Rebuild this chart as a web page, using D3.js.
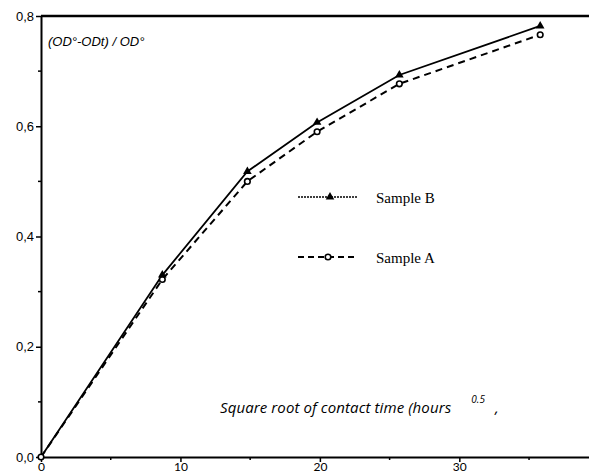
<!DOCTYPE html>
<html>
<head>
<meta charset="utf-8">
<script src="https://cdn.jsdelivr.net/npm/d3@7"></script>
<style>
  body { margin: 0; background: #fff; }
  svg { display: block; }
</style>
</head>
<body>
<div id="container"></div>
<script>
// data
const times = [0, 8.7, 14.8, 19.8, 25.7, 35.8];
const sampleB = [0, 0.33, 0.518, 0.607, 0.693, 0.782];
const sampleA = [0, 0.322, 0.5, 0.59, 0.677, 0.766];
const xTicks = [0, 10, 20, 30];
const yTicks = [0, 0.2, 0.4, 0.6, 0.8];

const width = 589;
const height = 474;
const padding = { top: 16, right: 0, bottom: 17, left: 41 };

const svg = d3.select('#container').append('svg')
    .attr('width', width)
    .attr('height', height);

// scales
const xScale = d3.scaleLinear()
    .domain([0, 39.3])
    .range([padding.left, width - padding.right]);

const yScale = d3.scaleLinear()
    .domain([0, 0.8])
    .range([height - padding.bottom, padding.top]);

// X-Axis
const xAxis = svg.append('g')
    .attr('transform', 'translate(0,' + yScale(0) + ')')
    .call(d3.axisBottom(xScale).tickValues(xTicks).tickSize(5).tickSizeOuter(0).tickFormat(d3.format('d')));
xAxis.select('.domain').attr('stroke-width', 2);
xAxis.selectAll('.tick line').attr('stroke-width', 1.5);
xAxis.selectAll('text')
    .attr('font-family', 'Lato, sans-serif')
    .attr('font-size', 12)
    .attr('y', 0)
    .attr('dy', 0)
    .attr('transform', 'translate(0,' + (height - 3 - yScale(0)) + ')');

// x minor ticks
svg.append('g').selectAll('line')
    .data([5, 15, 25, 35])
    .enter().append('line')
    .attr('x1', d => xScale(d)).attr('x2', d => xScale(d))
    .attr('y1', yScale(0)).attr('y2', yScale(0) + 3)
    .attr('stroke', '#000').attr('stroke-width', 1.5);

// Y-Axis
const yAxis = svg.append('g')
    .attr('transform', 'translate(' + xScale(0) + ',0)')
    .call(d3.axisLeft(yScale).tickValues(yTicks).tickSize(5).tickSizeOuter(0)
        .tickFormat(d => d3.format('.1f')(d).replace('.', ',')));
yAxis.select('.domain').attr('stroke-width', 2);
yAxis.selectAll('.tick line').attr('stroke-width', 1.5);
yAxis.selectAll('text')
    .attr('font-family', 'Liberation Sans, Arial, sans-serif')
    .attr('font-size', 13)
    .attr('x', -7);

// y minor ticks
svg.append('g').selectAll('line')
    .data([0.1, 0.3, 0.5, 0.7])
    .enter().append('line')
    .attr('x1', xScale(0)).attr('x2', xScale(0) - 3)
    .attr('y1', d => yScale(d)).attr('y2', d => yScale(d))
    .attr('stroke', '#000').attr('stroke-width', 1.5);

// top frame line
svg.append('line')
    .attr('x1', xScale(0)).attr('x2', width)
    .attr('y1', yScale(0.8)).attr('y2', yScale(0.8))
    .attr('stroke', '#000').attr('stroke-width', 2.5);

// lines
const line = d3.line()
    .x(d => xScale(d[0]))
    .y(d => yScale(d[1]));

const dataB = times.map((t, i) => [t, sampleB[i]]);
const dataA = times.map((t, i) => [t, sampleA[i]]);

svg.append('path')
    .datum(dataA)
    .attr('d', line)
    .attr('fill', 'none')
    .attr('stroke', '#000')
    .attr('stroke-width', 2)
    .attr('stroke-dasharray', '7,5');

svg.append('path')
    .datum(dataB)
    .attr('d', line)
    .attr('fill', 'none')
    .attr('stroke', '#000')
    .attr('stroke-width', 1.8);

// markers
const tri = d3.symbol().type(d3.symbolTriangle).size(32);

svg.selectAll('.ptA')
    .data(dataA)
    .enter().append('circle')
    .attr('class', 'ptA')
    .attr('cx', d => xScale(d[0]))
    .attr('cy', d => yScale(d[1]))
    .attr('r', 2.8)
    .attr('fill', '#fff')
    .attr('stroke', '#000')
    .attr('stroke-width', 1.6);

svg.selectAll('.ptB')
    .data(dataB.slice(1))
    .enter().append('path')
    .attr('class', 'ptB')
    .attr('d', tri)
    .attr('transform', d => 'translate(' + xScale(d[0]) + ',' + yScale(d[1]) + ')')
    .attr('fill', '#000');

// legend
const legend = svg.append('g');

legend.append('line')
    .attr('x1', 298).attr('x2', 358).attr('y1', 197).attr('y2', 197)
    .attr('stroke', '#000').attr('stroke-width', 1.5)
    .attr('stroke-dasharray', '2,1');
legend.append('path')
    .attr('d', tri)
    .attr('transform', 'translate(330,197)')
    .attr('fill', '#000');
legend.append('text')
    .attr('x', 376).attr('y', 203)
    .attr('font-family', 'Liberation Serif, Times New Roman, serif')
    .attr('font-size', 15)
    .text('Sample B');

legend.append('line')
    .attr('x1', 298).attr('x2', 358).attr('y1', 257).attr('y2', 257)
    .attr('stroke', '#000').attr('stroke-width', 2)
    .attr('stroke-dasharray', '6,4');
legend.append('circle')
    .attr('cx', 328).attr('cy', 257).attr('r', 2.8)
    .attr('fill', '#fff').attr('stroke', '#000').attr('stroke-width', 1.6);
legend.append('text')
    .attr('x', 376).attr('y', 263)
    .attr('font-family', 'Liberation Serif, Times New Roman, serif')
    .attr('font-size', 15)
    .text('Sample A');

// Y title
svg.append('text')
    .attr('x', 48).attr('y', 46)
    .attr('font-family', 'Liberation Sans, Arial, sans-serif')
    .attr('font-style', 'italic')
    .attr('font-size', 13)
    .text('(OD°-ODt) / OD°');

// X title
const xTitle = svg.append('text')
    .attr('x', 220).attr('y', 413)
    .attr('font-family', 'Open Sans, sans-serif')
    .attr('font-style', 'italic')
    .attr('font-size', 15)
    .attr('letter-spacing', 0.1);
xTitle.append('tspan').text('Square root of contact time  (hours ');
xTitle.append('tspan').attr('font-size', 10).attr('dy', -10).attr('dx', 16).text('0.5');
xTitle.append('tspan').attr('dy', 10).attr('dx', 10).text(',');
</script>
</body>
</html>
